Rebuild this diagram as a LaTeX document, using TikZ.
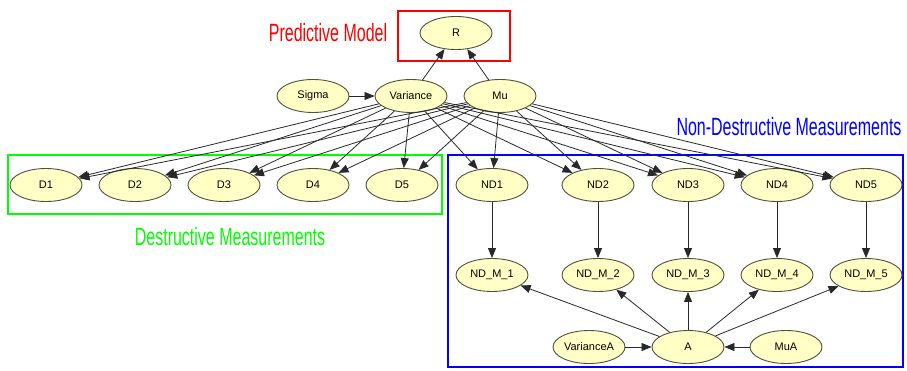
\documentclass[tikz,border=0pt]{standalone}
\usepackage{fontspec}
\usepackage{graphicx}
\setmainfont{Liberation Sans}
\usetikzlibrary{shapes.geometric,arrows.meta}
\definecolor{nodefill}{RGB}{255,255,198}
\definecolor{nodeline}{RGB}{80,80,60}
\definecolor{edgecol}{RGB}{40,40,40}
\tikzset{
  bn/.style={ellipse,draw=nodeline,fill=nodefill,line width=0.9pt,minimum width=72pt,minimum height=33pt,inner sep=0pt,font=\fontsize{11}{12}\selectfont},
  edge/.style={draw=edgecol,line width=0.8pt,-{Triangle[length=10pt,width=8pt]}},
  groupbox/.style={line width=2.8pt},
  grouplabel/.style={inner sep=0pt,font=\fontsize{25}{26}\selectfont}
}
\begin{document}
\begin{tikzpicture}[x=1pt,y=-1pt]
\useasboundingbox (0,0) rectangle (907,370);
% group boxes
\draw[groupbox,draw={rgb,255:red,255;green,0;blue,0}] (398,11) rectangle (510,61);
\draw[groupbox,draw={rgb,255:red,0;green,255;blue,0}] (8,155) rectangle (442,214);
\draw[groupbox,draw={rgb,255:red,0;green,0;blue,255}] (448,155) rectangle (903,367);
% labels
\node[grouplabel,text={rgb,255:red,255;green,0;blue,0}] (lpm) at (328,33) {\scalebox{0.64}[1]{Predictive Model}};
\node[grouplabel,text={rgb,255:red,0;green,255;blue,0}] (ldm) at (230,237) {\scalebox{0.64}[1]{Destructive Measurements}};
\node[grouplabel,text={rgb,255:red,0;green,0;blue,255}] (lndm) at (789,127) {\scalebox{0.64}[1]{Non-Destructive Measurements}};
% nodes
\node[bn] (R) at (456,33) {R};
\node[bn] (Sigma) at (313,96) {Sigma};
\node[bn] (Variance) at (411,96) {Variance};
\node[bn] (Mu) at (500,96) {Mu};
\node[bn] (D1) at (46,185) {D1};
\node[bn] (D2) at (135,185) {D2};
\node[bn] (D3) at (224,185) {D3};
\node[bn] (D4) at (313,185) {D4};
\node[bn] (D5) at (402,185) {D5};
\node[bn] (ND1) at (492,185) {ND1};
\node[bn] (ND2) at (598,185) {ND2};
\node[bn] (ND3) at (688,185) {ND3};
\node[bn] (ND4) at (777,185) {ND4};
\node[bn] (ND5) at (866,185) {ND5};
\node[bn] (NDM1) at (492,275) {ND\_M\_1};
\node[bn] (NDM2) at (598,275) {ND\_M\_2};
\node[bn] (NDM3) at (688,275) {ND\_M\_3};
\node[bn] (NDM4) at (777,275) {ND\_M\_4};
\node[bn] (NDM5) at (866,275) {ND\_M\_5};
\node[bn] (VarianceA) at (589,347) {VarianceA};
\node[bn] (A) at (688,347) {A};
\node[bn] (MuA) at (786,347) {MuA};
% edges
\draw[edge] (Sigma) -- (Variance);
\draw[edge] (Variance) -- (R);
\draw[edge] (Mu) -- (R);
\foreach \t in {D1,D2,D3,D4,D5,ND1,ND2,ND3,ND4,ND5}{
  \draw[edge] (Variance) -- (\t);
  \draw[edge] (Mu) -- (\t);
}
\foreach \i in {1,...,5}{
  \draw[edge] (ND\i) -- (NDM\i);
  \draw[edge] (A) -- (NDM\i);
}
\draw[edge] (VarianceA) -- (A);
\draw[edge] (MuA) -- (A);
\end{tikzpicture}
\end{document}
